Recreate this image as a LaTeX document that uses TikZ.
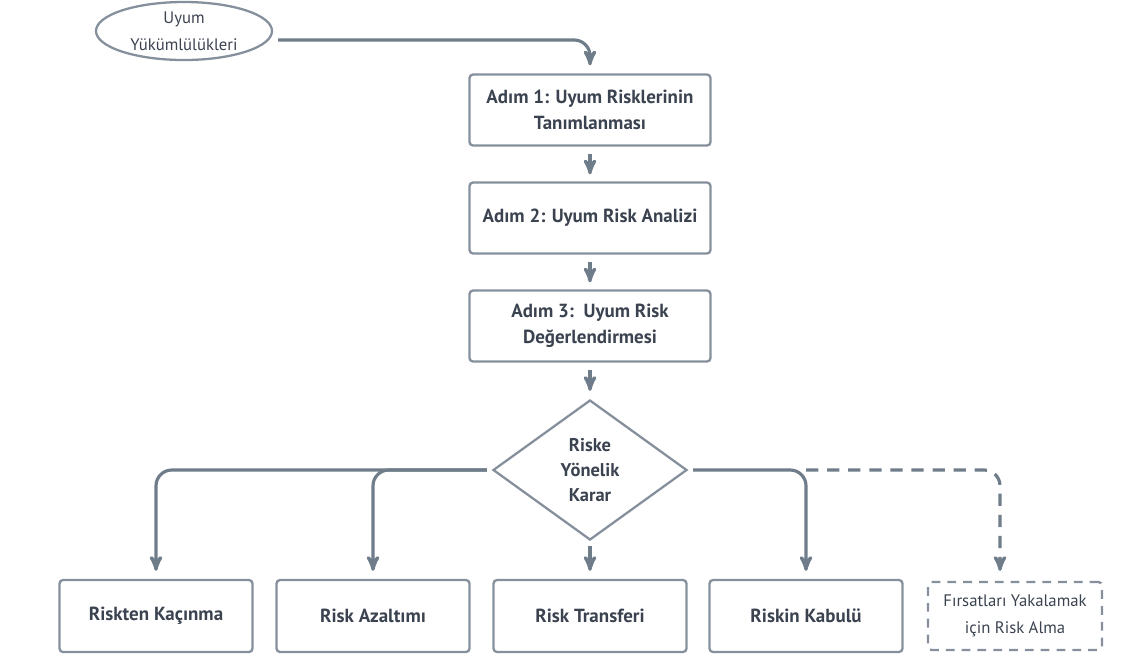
\documentclass[tikz,border=0pt]{standalone}
\usepackage{fontspec}
\setmainfont{PT Sans}
\usepackage{tikz}
\usetikzlibrary{arrows,calc,positioning,shapes.geometric}
\definecolor{linegray}{HTML}{6F7C8A}
\definecolor{textgray}{HTML}{3B4350}
\tikzset{
  stepbox/.style={rectangle,draw=linegray!85,line width=1.3pt,rounded corners=2pt,minimum width=241*0.02cm,minimum height=71*0.02cm,align=center,text=textgray,font=\bfseries\fontsize{10.8}{15}\selectfont},
  endbox/.style={stepbox,minimum width=193*0.02cm,minimum height=72*0.02cm},
  flow/.style={->,draw=linegray,line width=1.8pt,rounded corners=9pt},
}
\begin{document}
\begin{tikzpicture}[x=0.02cm,y=-0.02cm,>=stealth']
					\useasboundingbox (0,0) rectangle (1121,657);
					
					\node[ellipse,draw=linegray!85,line width=1.3pt,minimum width=176*0.02cm,minimum height=58*0.02cm,inner sep=0pt,align=center,text=textgray,font=\fontsize{9.5}{15.5}\selectfont] (duty) at (184,31) {Uyum\\Yükümlülükleri};
					
					\node[stepbox] (s1) at (590,110) {Adım 1: Uyum Risklerinin\\Tanımlanması};
					\node[stepbox] (s2) at (590,218) {Adım 2: Uyum Risk Analizi};
					\node[stepbox] (s3) at (590,326) {Adım 3:\ \ Uyum Risk\\Değerlendirmesi};
					
					\node[diamond,draw=linegray!85,line width=1.3pt,minimum width=194*0.02cm,minimum height=140*0.02cm,inner sep=0pt,aspect=1.4,align=center,text=textgray,font=\bfseries\fontsize{10.5}{14}\selectfont] (dec) at (590,470) {Riske\\Yönelik\\Karar};
					
					\node[endbox] (avoid) at (156,616) {Riskten Kaçınma};
					\node[endbox] (reduce) at (373,616) {Risk Azaltımı};
					\node[endbox] (transfer) at (590,616) {Risk Transferi};
					\node[endbox] (accept) at (806,616) {Riskin Kabulü};
					\node[endbox,dashed,dash pattern=on 5pt off 4pt,minimum width=174*0.02cm,minimum height=68*0.02cm,font=\fontsize{9.5}{15.5}\selectfont] (chance) at (1015,616) {Fırsatları Yakalamak\\için Risk Alma};
					
					\coordinate (split) at (accept.north |- dec.east);
					
					% top input
					\draw[flow] ($(duty.east)+(5,9)$) -| ($(s1.north)+(0,-8)$);
					
					% main chain
					\draw[flow] ($(s1.south)+(0,7)$) -- ($(s2.north)+(0,-7)$);
					\draw[flow] ($(s2.south)+(0,7)$) -- ($(s3.north)+(0,-7)$);
					\draw[flow] ($(s3.south)+(0,7)$) -- ($(dec.north)+(0,-8)$);
					\draw[flow] ($(dec.south)+(0,5)$) -- ($(transfer.north)+(0,-8)$);
					
					% decisions
					\draw[flow] ($(dec.west)+(-5,0)$) -| ($(avoid.north)+(0,-8)$);
					\draw[flow] ($(dec.west)+(-5,0)$) -| ($(reduce.north)+(0,-8)$);
					\draw[flow] ($(dec.east)+(5,0)$) -| ($(accept.north)+(0,-8)$);
					\draw[flow,dashed,dash pattern=on 7pt off 5pt] (split) -| ($(chance.north)+(-15,-10)$);
					\end{tikzpicture}
\end{document}
